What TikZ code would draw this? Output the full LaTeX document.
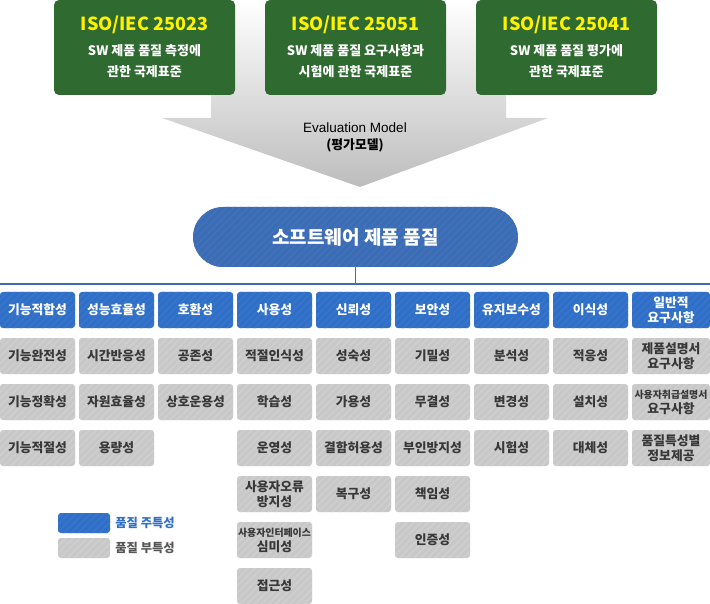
\documentclass[tikz,border=0pt]{standalone}
\usepackage{fontspec}
\setmainfont{Noto Sans CJK KR}
\newfontfamily\evalfont{Liberation Sans}
\usepackage{tikz}
\usetikzlibrary{positioning,patterns.meta}
\definecolor{isogreen}{HTML}{2F6A30}
\definecolor{isoyellow}{HTML}{FFF200}
\definecolor{mainblue}{HTML}{2F6FC8}
\definecolor{qualblue}{HTML}{3B6CB6}
\definecolor{subgray}{HTML}{C8C8C8}
\definecolor{textgray}{HTML}{383838}
\definecolor{linecol}{HTML}{3C6EA8}
\definecolor{arrowgray}{HTML}{BDBDBD}
\newcommand\smalltxt[1]{{\fontsize{9.9}{11}\selectfont #1}}

\begin{document}
\begin{tikzpicture}[x=1pt, y=-1pt,
isobox/.style={
		fill=isogreen,
		rounded corners=5pt,
		minimum width=181pt, minimum height=95pt,
		inner sep=0pt,
		},
isotitle/.style={text=isoyellow, font=\fontsize{18}{20}\selectfont\bfseries, inner sep=0pt},
isotext/.style={text=white, font=\fontsize{13}{21.5}\selectfont\bfseries, align=center, inner sep=0pt},
quality/.style={
		fill=qualblue,
		rounded corners=30pt,
		minimum width=325pt, minimum height=60pt,
		text=white, font=\fontsize{19}{21}\selectfont\bfseries,
		postaction={pattern={Lines[angle=45,distance=5pt,line width=1.5pt]}, pattern color=qualblue!96!white},
		},
mainbox/.style={
		fill=mainblue,
		rounded corners=3pt,
		minimum height=36pt, inner sep=0pt,
		text=white, font=\fontsize{12.8}{14.5}\selectfont\bfseries, align=center,
		postaction={pattern={Lines[angle=45,distance=5pt,line width=1.5pt]}, pattern color=mainblue!95!white},
		},
subbox/.style={
		fill=subgray,
		rounded corners=3pt,
		minimum height=36pt, inner sep=0pt,
		text=textgray, font=\fontsize{12.8}{15}\selectfont\bfseries, align=center,
		postaction={pattern={Lines[angle=45,distance=5pt,line width=1.5pt]}, pattern color=subgray!88!white},
		},
legendtext/.style={font=\fontsize{12.3}{14}\selectfont\bfseries, inner sep=0pt},
hline/.style={draw=linecol, line width=1.2pt},
]
\useasboundingbox (0,0) rectangle (710,604);

\def \pitch {79}
\def \headY {310}
\def \rowY {356}
\def \rowstep {46}

% evaluation model arrow
\shade[top color=white, bottom color=arrowgray]
  (211,0) -- (506,0) -- (506,118) -- (548,118) -- (360,187) -- (162,118) -- (211,118) -- cycle;
\node[inner sep=0pt, font=\fontsize{13.5}{15}\selectfont] (eval) at (355,128) {\evalfont Evaluation Model};
\node[inner sep=0pt, font=\fontsize{12.8}{14}\selectfont\bfseries] (evalkr) at (355,145) {(평가모델)};

% standards
\foreach \i/\x/\n/\a/\b in {1/144.5/25023/SW 제품 품질 측정에/관한 국제표준,
                            2/355.5/25051/SW 제품 품질 요구사항과/시험에 관한 국제표준,
                            3/566.5/25041/SW 제품 품질 평가에/관한 국제표준}
{
  \node[isobox] (iso\i) at (\x,47.5) {};
  \node[isotitle] (isot\i) at (\x,24.5) {ISO/IEC \n};
  \node[isotext] (isod\i) at (\x,61) {\a\\\b};
}

\node[quality] (sq) at (355.5,237) {소프트웨어 제품 품질};

\coordinate (lineL) at (0,284);
\coordinate (lineR) at (710,284);
\draw[hline] (lineL) -- (lineR);
\draw[hline] (sq.south) -- (sq.south |- lineL);

% characteristics and sub-characteristics
\foreach \c/\t/\items in {
  1/기능적합성/{기능완전성,기능정확성,기능적절성},
  2/성능효율성/{시간반응성,자원효율성,용량성},
  3/호환성/{공존성,상호운용성},
  4/사용성/{적절인식성,학습성,운영성,{사용자오류\\방지성},{\smalltxt{사용자인터페이스}\\심미성},접근성},
  5/신뢰성/{성숙성,가용성,결함허용성,복구성},
  6/보안성/{기밀성,무결성,부인방지성,책임성,인증성},
  7/유지보수성/{분석성,변경성,시험성},
  8/이식성/{적응성,설치성,대체성},
  9/{일반적\\요구사항}/{{제품설명서\\요구사항},{\smalltxt{사용자취급설명서}\\요구사항},{품질특성별\\정보제공}}}
{
  \pgfmathsetmacro\cw{\c==9 ? 78 : 75}
  \pgfmathsetmacro\cx{\pitch*(\c-1)+\cw/2}
  \node[mainbox, minimum width=\cw pt] (h\c) at (\cx,\headY) {\t};
  \foreach \s [count=\r] in \items
  {
    \pgfmathsetmacro\ry{\rowY+\rowstep*(\r-1)}
    \node[subbox, minimum width=\cw pt] (s\c-\r) at (\cx,\ry) {\s};
  }
}

% legend
\node[mainbox, minimum width=52pt, minimum height=20pt] (lgmain) at (84,523) {};
\node[subbox, minimum width=52pt, minimum height=20pt] (lgsub) at (84,548) {};
\node[legendtext, text=mainblue, right=5pt of lgmain] (lgmaint) {품질 주특성};
\node[legendtext, text=textgray!85!white, right=5pt of lgsub] (lgsubt) {품질 부특성};

\end{tikzpicture}
\end{document}
